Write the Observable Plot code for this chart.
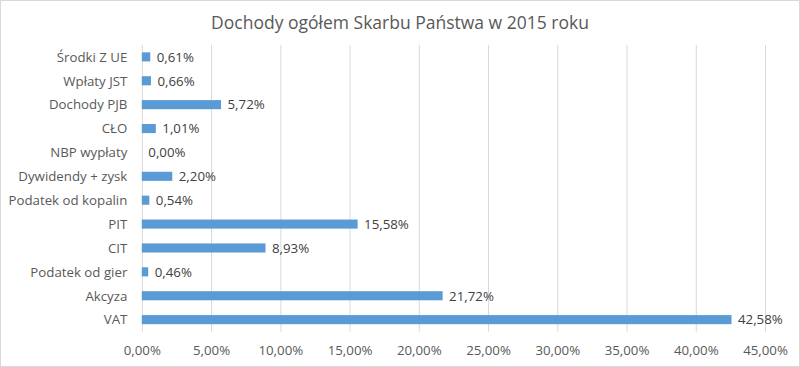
<!DOCTYPE html>
<html>
<head>
<meta charset="utf-8">
<script src="https://cdn.jsdelivr.net/npm/d3@7"></script>
<script src="https://cdn.jsdelivr.net/npm/@observablehq/plot@0.6"></script>
<style>
  html, body { margin: 0; padding: 0; background: #fff; }
  #wrap { position: relative; width: 800px; height: 367px; box-sizing: border-box; border: 1px solid #d9d9d9; overflow: hidden; }
  #title { position: absolute; left: 0; right: 0; top: 9px; text-align: center; font-family: "Open Sans", sans-serif; font-size: 17.5px; color: #595959; }
  #chart { position: absolute; left: -1px; top: -1px; }
</style>
</head>
<body>
<div id="wrap">
  <div id="title">Dochody ogółem Skarbu Państwa w 2015 roku</div>
  <div id="chart"></div>
</div>
<script>
const categories = ["Środki Z UE", "Wpłaty JST", "Dochody PJB", "CŁO", "NBP wypłaty", "Dywidendy + zysk", "Podatek od kopalin", "PIT", "CIT", "Podatek od gier", "Akcyza", "VAT"];
const values = [0.61, 0.66, 5.72, 1.01, 0.00, 2.20, 0.54, 15.58, 8.93, 0.46, 21.72, 42.58];
const xTicks = [0, 5, 10, 15, 20, 25, 30, 35, 40, 45];

const data = categories.map((c, i) => ({category: c, value: values[i]}));
const fmt = v => d3.format(".2f")(v).replace(".", ",") + "%";

const plot = Plot.plot({
  width: 800,
  height: 367,
  marginLeft: 142,
  marginRight: 34,
  marginTop: 45,
  marginBottom: 35,
  style: {fontFamily: "Open Sans, sans-serif", fontSize: "13.3px", color: "#595959", background: "transparent"},
  x: {domain: [0, 45], ticks: xTicks, tickFormat: fmt, label: null},
  y: {domain: categories, padding: 0, round: false, label: null},
  marks: [
    Plot.ruleX(xTicks, {x: d => d, stroke: "#d9d9d9", strokeWidth: 1, strokeOpacity: 1}),
    Plot.barX(data, {x: "value", y: "category", fill: "#5b9bd5", insetTop: 7.4, insetBottom: 7.4}),
    Plot.text(data, {x: "value", y: "category", text: d => fmt(d.value), textAnchor: "start", dx: 6, fill: "#404040", fontSize: 13.3}),
    Plot.axisX({ticks: xTicks, tickFormat: fmt, tickSize: 0, tickPadding: 14, fill: "#595959", fontSize: 13.3, label: null}),
    Plot.axisY({tickSize: 0, tickPadding: 15, fill: "#595959", fontSize: 13.3, label: null})
  ]
});
document.getElementById("chart").appendChild(plot);
</script>
</body>
</html>
